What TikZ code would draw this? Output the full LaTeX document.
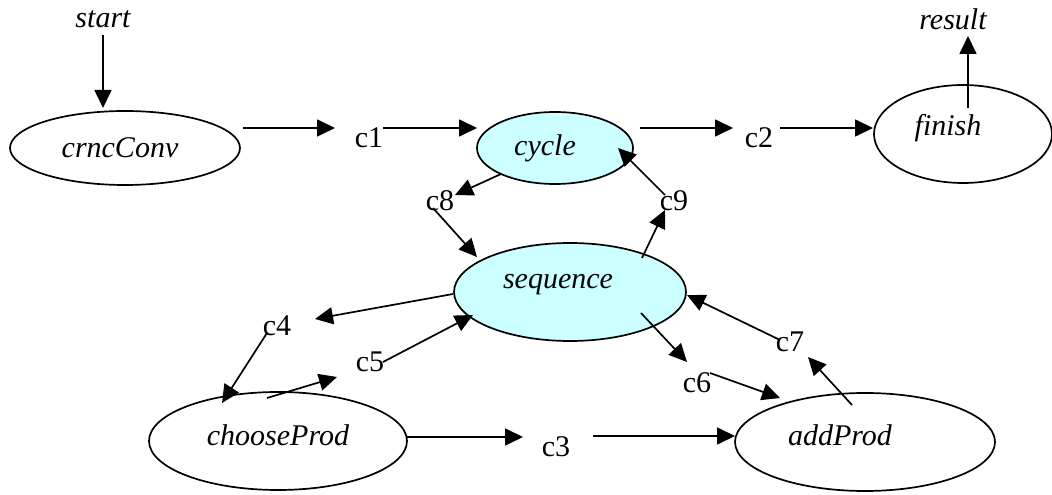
\documentclass[tikz,border=0pt]{standalone}
\usepackage{fontspec}
\setmainfont{Liberation Serif}
\usetikzlibrary{arrows.meta,shapes.geometric}

\definecolor{seqcyan}{RGB}{204,255,255}

\begin{document}
\begin{tikzpicture}[x=1pt, y=1pt]

      \tikzset{proc/.style={draw, ellipse, line width=1.7pt, inner sep=0pt},
               active/.style={proc, fill=seqcyan},
               itext/.style={font=\fontsize{30}{36}\selectfont\itshape, inner sep=0pt},
               chan/.style={font=\fontsize{30}{36}\selectfont, inner sep=0pt},
               arr/.style={line width=1.7pt, -{Triangle[length=18pt, width=17pt]}}}
      \useasboundingbox (0,0) rectangle (1052,495);
%% Processes
      	\node[proc, minimum width=230, minimum height=74, label={[itext, xshift=-5pt]center:crncConv}] (crncConv) at (125,347) {};
      	\node[active, minimum width=156, minimum height=72, label={[itext, xshift=-10pt]center:cycle}] (cycle) at (555,347) {};
      	\node[proc, minimum width=178, minimum height=98, label={[itext, xshift=-15pt, yshift=6pt]center:finish}] (finish) at (963,361) {};
      	\node[active, minimum width=232, minimum height=98, label={[itext, xshift=-12pt, yshift=7pt]center:sequence}] (sequence) at (570,203) {};
      	\node[proc, minimum width=258, minimum height=98, label={[itext, yshift=6pt]center:chooseProd}] (chooseProd) at (278,54) {};
      	\node[proc, minimum width=260, minimum height=98, label={[itext, xshift=-25pt, yshift=7pt]center:addProd}] (addProd) at (865,53) {};
%% Ports
      	\node[itext] (start) at (103,476) {start};
      	\node[itext] (result) at (953,476) {result};
      	\node[chan] (c1) at (369,357) {c1};
      	\node[chan] (c2) at (759,357) {c2};
      	\node[chan] (c3) at (556,48) {c3};
      	\node[chan] (c4) at (277,169) {c4};
      	\node[chan] (c5) at (370,133) {c5};
      	\node[chan] (c6) at (697,112) {c6};
      	\node[chan] (c7) at (790,153) {c7};
      	\node[chan] (c8) at (440,294) {c8};
      	\node[chan] (c9) at (674,294) {c9};
%Edges
		\path[arr] ([yshift=-16pt]start.center) edge ([shift={(-22,40)}]crncConv.center);
		\path[arr] ([shift={(118,20)}]crncConv.center) edge ([shift={(-34,10)}]c1.center);
		\path[arr] ([shift={(14,10)}]c1.center) edge ([shift={(-78,20)}]cycle.center);
		\path[arr] ([shift={(85,20)}]cycle.center) edge ([shift={(-26,10)}]c2.center);
		\path[arr] ([shift={(21,10)}]c2.center) edge ([shift={(-90,6)}]finish.center);
		\path[arr] ([shift={(5,26)}]finish.center) edge ([shift={(15,-17)}]result.center);
		\path[arr] ([shift={(-54,-26)}]cycle.center) edge ([shift={(15,6)}]c8.center);
		\path[arr] ([shift={(-7,-7)}]c8.center) edge ([shift={(-93,35)}]sequence.center);
		\path[arr] ([shift={(72,34)}]sequence.center) edge ([shift={(-9,-9)}]c9.center);
		\path[arr] ([shift={(-9,6)}]c9.center) edge ([shift={(63,0)}]cycle.center);
		\path[arr] ([shift={(-117,-2)}]sequence.center) edge ([shift={(38,7)}]c4.center);
		\path[arr] ([shift={(-10,-7)}]c4.center) edge ([shift={(-56,38)}]chooseProd.center);
		\path[arr] ([shift={(-11,43)}]chooseProd.center) edge ([shift={(-33,-15)}]c5.center);
		\path[arr] ([shift={(13,0)}]c5.center) edge ([shift={(-97,-23)}]sequence.center);
		\path[arr] ([shift={(129,4)}]chooseProd.center) edge ([shift={(-33,10)}]c3.center);
		\path[arr] ([shift={(37,11)}]c3.center) edge ([shift={(-130,6)}]addProd.center);
		\path[arr] ([shift={(71,-21)}]sequence.center) edge ([shift={(-10,21)}]c6.center);
		\path[arr] ([shift={(13,10)}]c6.center) edge ([shift={(-85,44)}]addProd.center);
		\path[arr] ([shift={(-13,37)}]addProd.center) edge ([shift={(18,-15)}]c7.center);
		\path[arr] ([shift={(-10,2)}]c7.center) edge ([shift={(117,-3)}]sequence.center);

\end{tikzpicture}
\end{document}
